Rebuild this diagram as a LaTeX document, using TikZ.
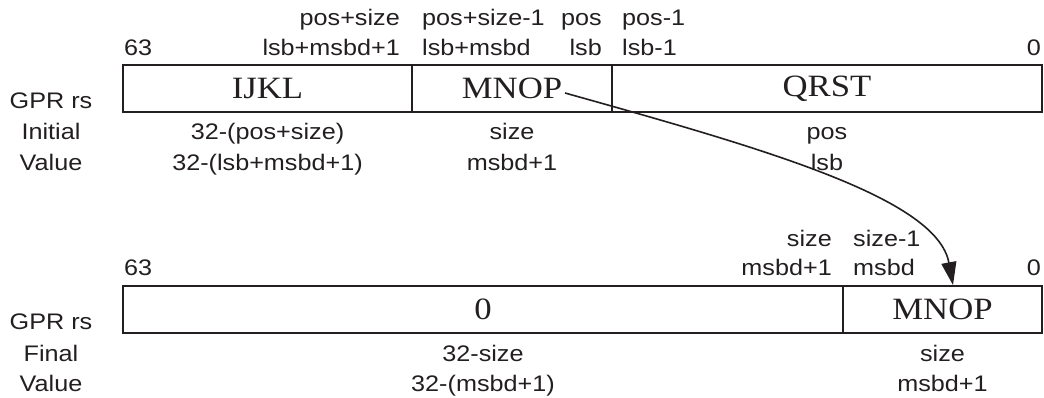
\documentclass[tikz,border=0pt]{standalone}
\usepackage{fontspec}
\usetikzlibrary{arrows.meta}
\newfontfamily\labfont[FakeStretch=1.12]{Liberation Sans}
\newfontfamily\fldfont[FakeStretch=1.12]{Liberation Serif}
\definecolor{ink}{HTML}{231F20}
\begin{document}
\begin{tikzpicture}[x=1pt,y=1pt,
  lab/.style={font=\labfont\fontsize{22.5}{25}\selectfont, text=ink, inner sep=0pt},
  field/.style={draw=ink, line width=1.8pt, minimum height=47pt, inner sep=0pt,
                font=\fldfont\fontsize{31}{34}\selectfont, text=ink},
  conn/.style={draw=ink, line width=1.6pt, -{Triangle[length=23pt,width=15pt]}}]
\useasboundingbox (0,0) rectangle (1044,398);

% ---- initial value register ----
\node[field, minimum width=289pt] (ijkl) at (267.5,309.5) {IJKL};
\node[field, minimum width=200pt] (mnop) at (512,309.5) {MNOP};
\node[field, minimum width=430pt] (qrst) at (827,309.5) {QRST};

\node[lab, anchor=base west] (t63) at (124,342) {63};
\node[lab, anchor=base east] (ta1) at (400,372) {pos+size};
\node[lab, anchor=base east] (ta2) at (400,342) {lsb+msbd+1};
\node[lab, anchor=base west] (tb1) at (422,372) {pos+size-1};
\node[lab, anchor=base west] (tb2) at (422,342) {lsb+msbd};
\node[lab, anchor=base east] (tc1) at (602,372) {pos};
\node[lab, anchor=base east] (tc2) at (602,342) {lsb};
\node[lab, anchor=base west] (td1) at (622,372) {pos-1};
\node[lab, anchor=base west] (td2) at (622,342) {lsb-1};
\node[lab, anchor=base east] (t0) at (1041,342) {0};

\node[lab, anchor=base] (ua1) at (267.5,258) {32-(pos+size)};
\node[lab, anchor=base] (ua2) at (267.5,227) {32-(lsb+msbd+1)};
\node[lab, anchor=base] (ub1) at (512,258) {size};
\node[lab, anchor=base] (ub2) at (512,227) {msbd+1};
\node[lab, anchor=base] (uc1) at (827,258) {pos};
\node[lab, anchor=base] (uc2) at (827,227) {lsb};

\node[lab, anchor=base] (l1) at (51,289) {GPR rs};
\node[lab, anchor=base] (l2) at (51,258) {Initial};
\node[lab, anchor=base] (l3) at (51,227) {Value};

% ---- final value register ----
\node[field, minimum width=720pt] (zero) at (483,88.5) {0};
\node[field, minimum width=199pt] (fin) at (942.5,88.5) {MNOP};

\node[lab, anchor=base west] (b63) at (124,122) {63};
\node[lab, anchor=base east] (ba1) at (832,151) {size};
\node[lab, anchor=base east] (ba2) at (832,122) {msbd+1};
\node[lab, anchor=base west] (bb1) at (853,151) {size-1};
\node[lab, anchor=base west] (bb2) at (853,122) {msbd};
\node[lab, anchor=base east] (b0) at (1041,122) {0};

\node[lab, anchor=base] (va1) at (483,36) {32-size};
\node[lab, anchor=base] (va2) at (483,6) {32-(msbd+1)};
\node[lab, anchor=base] (vb1) at (942.5,36) {size};
\node[lab, anchor=base] (vb2) at (942.5,6) {msbd+1};

\node[lab, anchor=base] (m1) at (51,68) {GPR rs};
\node[lab, anchor=base] (m2) at (51,36) {Final};
\node[lab, anchor=base] (m3) at (51,6) {Value};

% ---- move arrow ----
\coordinate (src) at (565,305);
\draw[conn] (src) .. controls (765,249) and (937,200) .. ([xshift=10.5pt]fin.north);
\end{tikzpicture}
\end{document}
